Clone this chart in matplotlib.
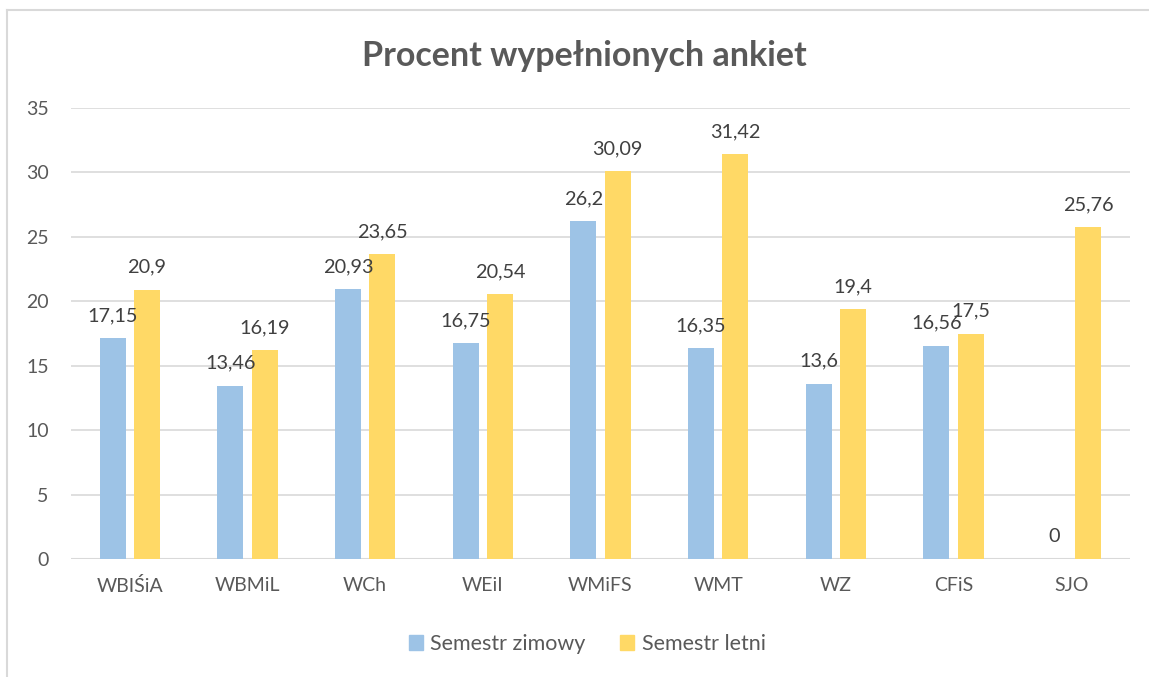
import matplotlib.pyplot as plt
import numpy as np
from matplotlib.lines import Line2D

plt.rcParams["font.family"] = ["Lato", "DejaVu Sans"]

categories = ["WBIŚiA", "WBMiL", "WCh", "WEiI", "WMiFS", "WMT", "WZ", "CFiS", "SJO"]
zimowy = [17.15, 13.46, 20.93, 16.75, 26.2, 16.35, 13.6, 16.56, 0]
letni = [20.9, 16.19, 23.65, 20.54, 30.09, 31.42, 19.4, 17.5, 25.76]
series_names = ["Semestr zimowy", "Semestr letni"]
y_ticks = [0, 5, 10, 15, 20, 25, 30, 35]

BLUE = "#9DC3E6"
YELLOW = "#FFD966"
GRID = "#D9D9D9"
TEXT = "#595959"
LABEL = "#404040"

fig = plt.figure(figsize=(11.49, 6.77), dpi=100)
ax = fig.add_axes([71 / 1149, 1 - 559 / 677, (1130 - 71) / 1149, (559 - 108) / 677])

x = np.arange(len(categories))
w = 0.22
off = 0.145
b1 = ax.bar(x - off, zimowy, w, color=BLUE, zorder=3, label=series_names[0])
b2 = ax.bar(x + off, letni, w, color=YELLOW, zorder=3, label=series_names[1])

for bars, vals in ((b1, zimowy), (b2, letni)):
    for bar, v in zip(bars, vals):
        ax.annotate(f"{v:g}".replace(".", ","),
                    (bar.get_x() + bar.get_width() / 2, v),
                    xytext=(0, 10), textcoords="offset points",
                    ha="center", va="bottom", fontsize=14.3, color=LABEL)

ax.set_xlim(-0.5, len(categories) - 0.5)
ax.set_ylim(0, 35)
ax.set_yticks(y_ticks)
ax.set_yticklabels([str(t) for t in y_ticks])
ax.set_xticks(x)
ax.set_xticklabels(categories)
ax.tick_params(axis="both", length=0, labelsize=14, colors=TEXT)
ax.tick_params(axis="y", pad=16)
ax.tick_params(axis="x", pad=13)
ax.grid(axis="y", color=GRID, linewidth=1.2, zorder=0)
for s in ax.spines.values():
    s.set_visible(False)
ax.axhline(0, color=GRID, linewidth=1.5, zorder=2)

fig.text(0.509, 1 - 56 / 677, "Procent wypełnionych ankiet", ha="center", va="center",
         fontsize=24.5, fontweight="bold", color=TEXT)

handles = [plt.Rectangle((0, 0), 1, 1, color=BLUE), plt.Rectangle((0, 0), 1, 1, color=YELLOW)]
fig.legend(handles, series_names, loc="center", bbox_to_anchor=(0.511, 1 - 644 / 677),
           ncol=2, frameon=False, fontsize=15.5, labelcolor=TEXT, handlelength=0.65,
           handleheight=0.65, handletextpad=0.35, columnspacing=1.6)

# chart frame (cropped at right and bottom)
fig.add_artist(Line2D([7 / 1149, 7 / 1149], [0, 1 - 10 / 677], color=GRID, linewidth=1.5))
fig.add_artist(Line2D([7 / 1149, 1], [1 - 10 / 677, 1 - 10 / 677], color=GRID, linewidth=1.5))

fig.savefig("out.png", dpi=100, facecolor="white")
